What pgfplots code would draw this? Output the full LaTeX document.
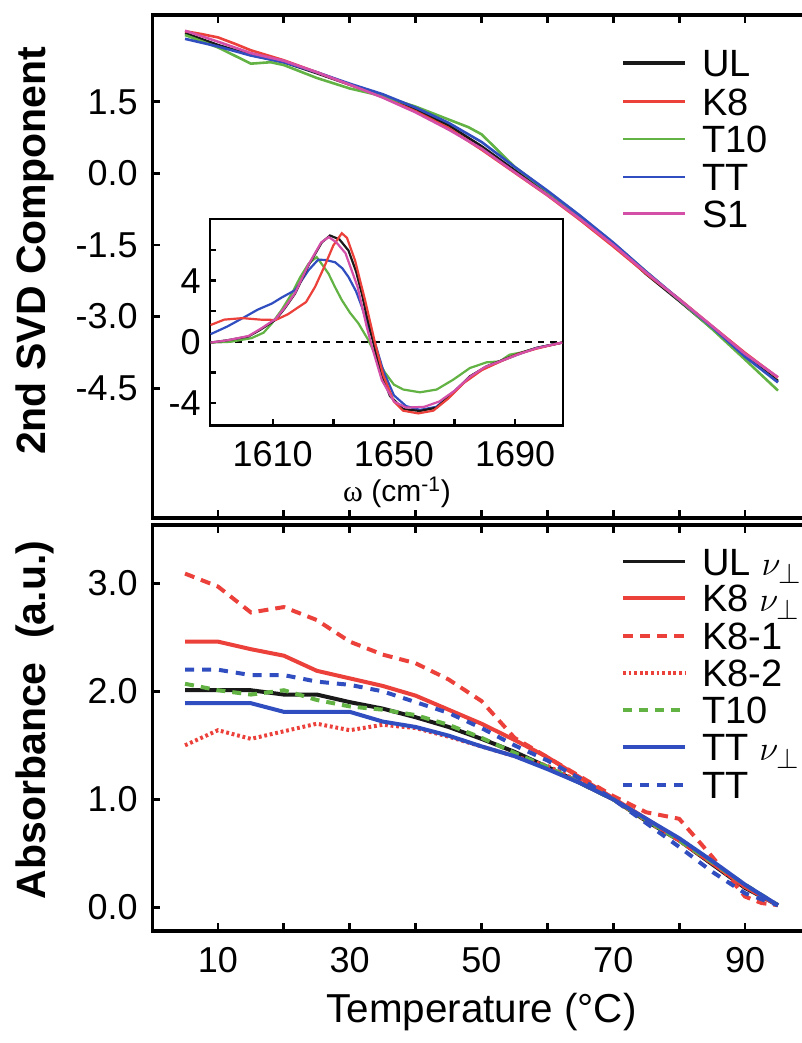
\documentclass[border=0pt]{standalone}
\usepackage{fontspec}
\setmainfont{Liberation Sans}
\newfontfamily\serifgreek{Liberation Serif}
\usepackage{pgfplots}
\pgfplotsset{compat=1.18}

\definecolor{cK}{RGB}{25,25,25}
\definecolor{cR}{RGB}{236,64,58}
\definecolor{cG}{RGB}{98,178,68}
\definecolor{cB}{RGB}{48,78,192}
\definecolor{cM}{RGB}{212,80,168}

\pgfplotsset{
  panel/.style={
    scale only axis, width=329.4pt,
    xmin=0, xmax=100,
    axis line style={line width=1.6pt},
    tick style={line width=1.4pt, black},
    tick align=inside, major tick length=4pt,
    xtick={10,20,...,90},
    ticklabel style={font=\fontsize{18}{20}\selectfont},
    yticklabel style={inner sep=0pt, xshift=-7pt},
    xticklabel style={inner sep=0pt, yshift=-8pt},
  },
}
% legend keys: line from x0 to x0+31pt, text from x0+39.5pt
\newcommand{\legkey}[4]{% style, y (pt), text, x0
  \draw[#1] (#4,#2) -- ++(31pt,0pt);
  \node[anchor=base west, inner sep=0pt, font=\fontsize{19}{19}\selectfont]
    at ([xshift=39.5pt,yshift=-6.8pt]#4,#2) {#3};}

\begin{document}
\begin{tikzpicture}
\path[use as bounding box] (0,0) rectangle (401pt,521.5pt);
\clip (0,0) rectangle (401pt,521.5pt);

% upper panel
\begin{axis}[panel, at={(76.05pt,262.5pt)}, anchor=south west, height=251.5pt,
  ymin=-7.22, ymax=3.32,
  ytick={-4.5,-3,-1.5,0,1.5}, yticklabels={-4.5,-3.0,-1.5,0.0,1.5},
  xticklabels={},
  every axis plot/.append style={line width=1.3pt}]
\addplot[cK] coordinates {(5,2.94)(10,2.69)(15,2.48)(20,2.33)(25,2.10)(30,1.86)(35,1.62)(40,1.34)(45,1.01)(50,0.57)(55,0.07)(60,-0.42)(65,-0.93)(70,-1.48)(75,-2.11)(80,-2.67)(85,-3.25)(90,-3.83)(95,-4.35)};
\addplot[cR] coordinates {(5,2.98)(7.5,2.92)(10,2.85)(12.5,2.72)(15,2.58)(20,2.37)(25,2.12)(30,1.86)(35,1.60)(40,1.30)(45,0.95)(50,0.50)(55,0.02)(60,-0.46)(65,-0.98)(70,-1.53)(75,-2.10)(80,-2.63)(85,-3.20)(90,-3.76)(95,-4.28)};
\addplot[cG] coordinates {(5,2.90)(10,2.64)(15,2.30)(18,2.33)(20,2.27)(25,2.00)(30,1.78)(35,1.62)(40,1.40)(45,1.13)(48,0.97)(50,0.82)(52,0.55)(55,0.14)(60,-0.38)(65,-0.90)(70,-1.46)(75,-2.06)(80,-2.65)(85,-3.26)(90,-3.90)(95,-4.55)};
\addplot[cB] coordinates {(5,2.82)(10,2.66)(15,2.47)(20,2.33)(25,2.12)(30,1.88)(35,1.66)(40,1.38)(45,1.06)(50,0.66)(55,0.14)(60,-0.36)(65,-0.89)(70,-1.45)(75,-2.06)(80,-2.64)(85,-3.22)(90,-3.84)(95,-4.38)};
\addplot[cM] coordinates {(5,2.99)(10,2.76)(15,2.52)(20,2.36)(25,2.12)(30,1.86)(35,1.59)(40,1.28)(45,0.92)(50,0.52)(55,0.03)(60,-0.45)(65,-0.96)(70,-1.50)(75,-2.08)(80,-2.64)(85,-3.20)(90,-3.78)(95,-4.27)};
\end{axis}

% inset
\begin{axis}[at={(105pt,308.75pt)}, anchor=south west, scale only axis,
  width=176.5pt, height=103.25pt,
  xmin=1589.3, xmax=1705.8, ymin=-5.47, ymax=8.03,
  axis background/.style={fill=white},
  axis line style={line width=1.4pt},
  tick style={line width=1.2pt, black}, tick align=inside, major tick length=3pt,
  xtick pos=bottom, ytick pos=left,
  xtick={1610,1630,1650,1670,1690}, xticklabels={1610,,1650,,1690},
  ytick={-4,-2,0,2,4,6}, yticklabels={-4,,0,,4,},
  ticklabel style={font=\fontsize{18}{20}\selectfont},
  yticklabel style={inner sep=0pt, xshift=-4.5pt},
  xticklabel style={inner sep=0pt, yshift=-7.5pt},
  xlabel={{\serifgreek ω} (cm\textsuperscript{-1})},
  xlabel style={font=\fontsize{15}{15}\selectfont, at={(axis description cs:0.53,-0.37)}, anchor=base, inner sep=0pt},
  every axis plot/.append style={line width=1.1pt}]
\addplot[black, line width=1pt, dash pattern=on 3.3pt off 3pt] coordinates {(1589.3,0)(1705.8,0)};
\addplot[cG] coordinates {(1589.5,-0.05)(1596,0.0)(1603,0.24)(1607,0.6)(1609.7,1.2)(1613,2.1)(1616.3,3.16)(1619,4.2)(1621.8,5.1)(1624.5,5.54)(1626.5,5.0)(1628.4,4.46)(1630.5,3.6)(1632.8,2.73)(1635.5,1.9)(1638.3,1.2)(1641.5,0.13)(1644,-0.9)(1647,-2.0)(1650,-2.8)(1653.1,-3.12)(1658.6,-3.3)(1664.1,-3.12)(1669.6,-2.47)(1675.1,-1.71)(1680.6,-1.34)(1684.9,-1.28)(1688.2,-0.84)(1692,-0.7)(1697,-0.4)(1705.5,-0.05)};
\addplot[cB] coordinates {(1589.5,0.5)(1595,1.0)(1600.9,1.64)(1605,2.1)(1609.7,2.5)(1613,2.9)(1617.4,3.38)(1621.8,4.68)(1625,5.37)(1627.5,5.35)(1630.6,5.2)(1633,4.8)(1635,4.24)(1637.5,3.3)(1639.4,2.3)(1641.5,1.0)(1643.8,-0.1)(1646.5,-1.9)(1650,-3.5)(1654,-4.2)(1658.6,-4.45)(1664,-4.25)(1669,-3.4)(1675,-2.3)(1680,-1.7)(1686,-1.2)(1692,-0.75)(1697,-0.4)(1705.5,-0.05)};
\addplot[cK] coordinates {(1589.5,-0.05)(1595,0.1)(1602,0.35)(1606,0.8)(1611,1.45)(1614,2.2)(1617.4,3.16)(1621.8,5.0)(1626.2,6.5)(1628.9,6.95)(1632,6.7)(1635,5.97)(1637.5,4.6)(1639.4,3.16)(1641,1.7)(1642.7,0.35)(1645.4,-1.8)(1648.7,-3.55)(1653.1,-4.4)(1658.6,-4.52)(1664.1,-4.3)(1669.6,-3.33)(1675.1,-2.25)(1680.6,-1.6)(1686.1,-1.17)(1691.6,-0.74)(1697,-0.41)(1705.5,-0.05)};
\addplot[cR] coordinates {(1589.5,1.1)(1594,1.45)(1600,1.55)(1606,1.45)(1611,1.43)(1615,1.8)(1618,2.2)(1621,2.6)(1624,3.6)(1627,4.9)(1630,6.3)(1632.8,7.1)(1634.5,6.8)(1637.2,5.3)(1640.5,2.7)(1643.8,-0.1)(1646.5,-2.2)(1650,-3.9)(1653,-4.5)(1658,-4.68)(1663,-4.5)(1668,-3.7)(1673,-2.7)(1679,-1.85)(1685,-1.3)(1691,-0.8)(1697,-0.45)(1705.5,-0.05)};
\addplot[cM] coordinates {(1589.5,-0.05)(1595,0.1)(1602,0.38)(1606,0.85)(1611,1.5)(1614,2.25)(1617.4,3.2)(1621.8,5.05)(1626,6.5)(1628.5,6.85)(1631,6.5)(1634,5.8)(1638,3.6)(1641,1.0)(1643,-0.5)(1646,-2.5)(1650,-3.9)(1654,-4.3)(1660,-4.25)(1665,-3.9)(1670,-3.2)(1675,-2.3)(1680,-1.65)(1686,-1.2)(1692,-0.75)(1697,-0.42)(1705.5,-0.05)};
\end{axis}

% lower panel
\begin{axis}[panel, at={(76.05pt,56pt)}, anchor=south west, height=203pt,
  ymin=-0.219, ymax=3.54,
  ytick={0,1,2,3}, yticklabels={0.0,1.0,2.0,3.0},
  xticklabels={10,,30,,50,,70,,90},
  every axis plot/.append style={line width=2pt}]
\addplot[cK] coordinates {(5,2.01)(10,2.01)(15,2.01)(20,1.97)(25,1.97)(30,1.90)(35,1.84)(40,1.76)(45,1.67)(50,1.56)(55,1.44)(60,1.30)(65,1.15)(70,1.00)(75,0.80)(80,0.62)(85,0.40)(90,0.18)(95,0.02)};
\addplot[cR] coordinates {(5,2.46)(10,2.46)(15,2.39)(20,2.33)(25,2.19)(30,2.12)(35,2.05)(40,1.96)(45,1.83)(50,1.70)(55,1.55)(60,1.39)(65,1.20)(70,1.01)(75,0.82)(80,0.62)(85,0.41)(90,0.19)(95,0.02)};
\addplot[cR, dash pattern=on 5pt off 3.5pt] coordinates {(5,3.09)(10,2.97)(15,2.73)(20,2.78)(25,2.66)(30,2.46)(35,2.34)(40,2.26)(45,2.11)(50,1.91)(55,1.57)(60,1.39)(65,1.21)(70,1.03)(75,0.88)(80,0.82)(85,0.47)(90,0.10)(92.5,0.04)(95,0.02)};
\addplot[cR, dash pattern=on 1.4pt off 1.4pt] coordinates {(5,1.50)(10,1.64)(15,1.56)(20,1.63)(25,1.70)(30,1.64)(35,1.69)(40,1.66)(45,1.58)(50,1.49)(55,1.40)(60,1.31)(65,1.16)(70,1.00)(75,0.80)(80,0.62)(85,0.41)(90,0.19)(95,0.02)};
\addplot[cG, dash pattern=on 4.5pt off 3.5pt] coordinates {(5,2.07)(10,2.01)(15,1.97)(20,2.01)(25,1.92)(30,1.86)(35,1.83)(40,1.78)(45,1.69)(50,1.57)(55,1.43)(60,1.30)(65,1.15)(70,1.00)(75,0.81)(80,0.62)(85,0.42)(90,0.21)(95,0.02)};
\addplot[cB] coordinates {(5,1.89)(10,1.89)(15,1.89)(20,1.81)(25,1.81)(30,1.81)(35,1.72)(40,1.67)(45,1.59)(50,1.49)(55,1.40)(60,1.28)(65,1.15)(70,1.00)(75,0.82)(80,0.64)(85,0.43)(90,0.21)(95,0.02)};
\addplot[cB, dash pattern=on 4.5pt off 4pt] coordinates {(5,2.20)(10,2.20)(15,2.15)(20,2.15)(25,2.09)(30,2.06)(35,2.00)(40,1.90)(45,1.80)(50,1.66)(55,1.50)(60,1.36)(65,1.19)(70,1.00)(75,0.78)(80,0.56)(85,0.33)(90,0.13)(95,0.02)};
\end{axis}

% legends
\legkey{cK, line width=1.6pt}{490pt}{UL}{311.5pt}
\legkey{cR, line width=1.4pt}{470.75pt}{K8}{311.5pt}
\legkey{cG, line width=1.4pt}{452pt}{T10}{311.5pt}
\legkey{cB, line width=1.4pt}{433pt}{TT}{311.5pt}
\legkey{cM, line width=1.4pt}{414.75pt}{S1}{311.5pt}

\legkey{cK, line width=1.8pt}{240.65pt}{UL $\nu_{\perp}$}{311.5pt}
\legkey{cR, line width=1.8pt}{222.35pt}{K8 $\nu_{\perp}$}{311.5pt}
\legkey{cR, line width=1.8pt, dash pattern=on 5pt off 3.5pt}{203.5pt}{K8-1}{311.5pt}
\legkey{cR, line width=1.8pt, dash pattern=on 1.4pt off 1.4pt}{185pt}{K8-2}{311.5pt}
\legkey{cG, line width=1.8pt, dash pattern=on 4.5pt off 3.5pt}{166.5pt}{T10}{311.5pt}
\legkey{cB, line width=1.8pt}{147.85pt}{TT $\nu_{\perp}$}{311.5pt}
\legkey{cB, line width=1.8pt, dash pattern=on 4.5pt off 4pt}{129pt}{TT}{311.5pt}

% axis titles
\node[rotate=90, anchor=base, font=\bfseries\fontsize{20.5}{22}\selectfont] at (22.5pt,396pt) {2nd SVD Component};
\node[rotate=90, anchor=base, font=\bfseries\fontsize{20.5}{22}\selectfont] at (22.5pt,161.5pt) {Absorbance\hspace{0.3em} (a.u.)};
\node[anchor=base, font=\fontsize{20.2}{22}\selectfont] at (240.75pt,10pt) {Temperature (°C)};
\end{tikzpicture}
\end{document}
